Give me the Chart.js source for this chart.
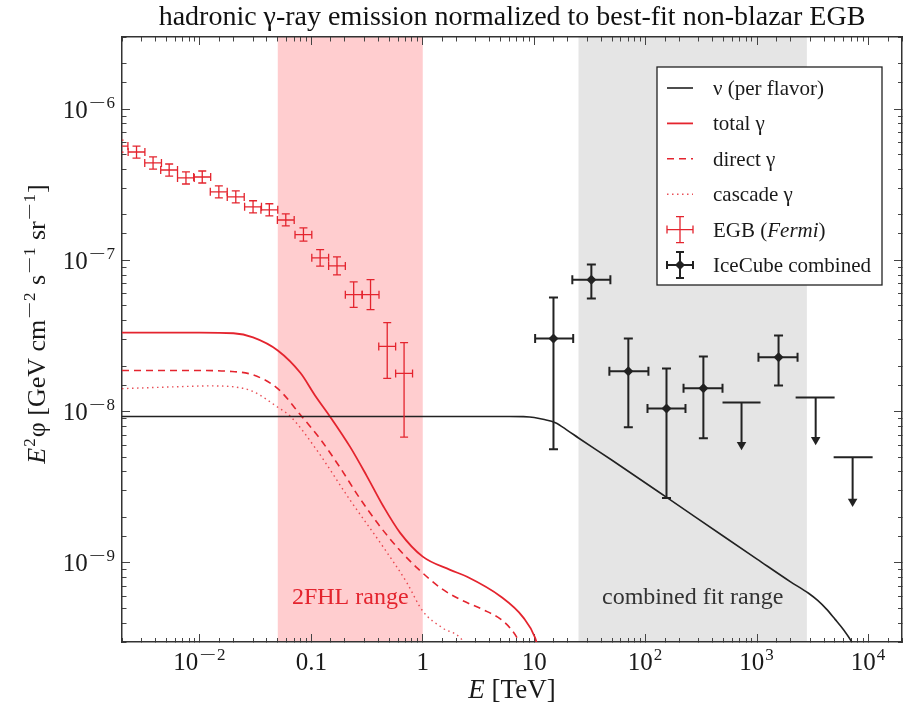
<!DOCTYPE html>
<html>
<head>
<meta charset="utf-8">
<script src="https://cdn.jsdelivr.net/npm/chart.js@4.4.1/dist/chart.umd.min.js"></script>
<style>
  html, body { margin: 0; padding: 0; background: #fff; }
  canvas { display: block; }
</style>
</head>
<body>
<canvas id="chart" width="903" height="710"></canvas>
<script>
// energies in TeV, E^2 phi in GeV cm^-2 s^-1 sr^-1
const nuE    = [0.002, 1, 6, 8, 10, 12, 15.5, 20, 25, 50, 157, 500, 1000, 2000, 2900, 3500, 4200, 5000, 6000, 7200, 9000];
const nuFlux = [9.3e-9, 9.3e-9, 9.3e-9, 9.27e-9, 9.15e-9, 8.9e-9, 8.45e-9, 7.5e-9, 6.7e-9, 4.77e-9, 2.69e-9, 1.5e-9, 1.06e-9, 7.5e-10, 6.3e-10, 5.65e-10, 4.95e-10, 4.25e-10, 3.6e-10, 2.95e-10, 2.2e-10];

const totE    = [0.002, 0.01, 0.02, 0.03, 0.05, 0.08, 0.108, 0.147, 0.223, 0.315, 0.444, 0.627, 1, 1.76, 2.5, 5, 8, 10.2, 11.5];
const totFlux = [3.33e-8, 3.33e-8, 3.3e-8, 3.1e-8, 2.54e-8, 1.8e-8, 1.28e-8, 9.3e-9, 5.85e-9, 3.75e-9, 2.36e-9, 1.58e-9, 1.1e-9, 9.0e-10, 8.1e-10, 6.0e-10, 4.35e-10, 3.2e-10, 2.3e-10];

const dirE    = [0.002, 0.01, 0.018, 0.03, 0.05, 0.082, 0.12, 0.18, 0.27, 0.4, 0.6, 0.9, 1.5, 2.2, 3.5, 5, 6.1, 7.2, 8.2];
const dirFlux = [1.87e-8, 1.87e-8, 1.85e-8, 1.75e-8, 1.42e-8, 9.3e-9, 6.6e-9, 4.3e-9, 2.7e-9, 1.8e-9, 1.25e-9, 9.2e-10, 6.7e-10, 5.7e-10, 4.9e-10, 4.25e-10, 3.7e-10, 3.1e-10, 2.5e-10];

const casE    = [0.002, 0.006, 0.012, 0.02, 0.03, 0.05, 0.065, 0.112, 0.223, 0.44, 0.72, 1, 1.52, 2.17, 2.6];
const casFlux = [1.42e-8, 1.46e-8, 1.48e-8, 1.46e-8, 1.36e-8, 1.07e-8, 9.3e-9, 5.57e-9, 2.6e-9, 1.28e-9, 7.4e-10, 4.8e-10, 3.7e-10, 3.2e-10, 2.6e-10];

// Fermi EGB
const egbE    = [0.0019, 0.0027, 0.0038, 0.0053, 0.0075, 0.0105, 0.0148, 0.021, 0.030, 0.042, 0.059, 0.085, 0.12, 0.17, 0.24, 0.34, 0.48, 0.68];
const egbElo  = [0.0016, 0.00227, 0.0032, 0.00445, 0.0063, 0.0088, 0.0124, 0.0176, 0.0252, 0.0353, 0.0496, 0.0714, 0.101, 0.143, 0.202, 0.286, 0.403, 0.571];
const egbEhi  = [0.00226, 0.00321, 0.00452, 0.0063, 0.0089, 0.0125, 0.0176, 0.025, 0.0357, 0.05, 0.0702, 0.101, 0.143, 0.202, 0.286, 0.405, 0.571, 0.81];
const egbFlux = [5.7e-7, 5.21e-7, 4.41e-7, 3.96e-7, 3.51e-7, 3.56e-7, 2.84e-7, 2.63e-7, 2.26e-7, 2.16e-7, 1.85e-7, 1.48e-7, 1.04e-7, 9.2e-8, 5.94e-8, 5.94e-8, 2.70e-8, 1.79e-8];
const egbLo   = [5.2e-7, 4.75e-7, 4.02e-7, 3.61e-7, 3.2e-7, 3.25e-7, 2.59e-7, 2.4e-7, 2.06e-7, 1.97e-7, 1.69e-7, 1.34e-7, 9.16e-8, 8.03e-8, 4.89e-8, 4.73e-8, 1.66e-8, 6.78e-9];
const egbHi   = [6.25e-7, 5.7e-7, 4.83e-7, 4.34e-7, 3.85e-7, 3.9e-7, 3.11e-7, 2.88e-7, 2.48e-7, 2.37e-7, 2.03e-7, 1.64e-7, 1.18e-7, 1.054e-7, 7.21e-8, 7.46e-8, 3.88e-8, 2.86e-8];

// IceCube combined
const icE    = [14.9, 32.6, 70, 154, 330, 1560];
const icElo  = [10.2, 22.0, 47.3, 104, 219, 1030];
const icEhi  = [22.4, 48.3, 106, 228, 490, 2310];
const icFlux = [3.05e-8, 7.46e-8, 1.85e-8, 1.05e-8, 1.43e-8, 2.29e-8];
const icLo   = [5.65e-9, 5.6e-8, 7.89e-9, 2.69e-9, 6.68e-9, 1.49e-8];
const icHi   = [5.68e-8, 9.38e-8, 3.05e-8, 1.93e-8, 2.32e-8, 3.19e-8];

// IceCube upper limits
const ulE     = [726, 3360, 7210];
const ulElo   = [490, 2220, 4870];
const ulEhi   = [1075, 4970, 10900];
const ulFlux  = [1.15e-8, 1.24e-8, 5.0e-9];
const ulArrow = [6.05e-9, 6.53e-9, 2.55e-9];

const fhlRange = [0.05, 1];
const fitRange = [25, 2800];

const xTickVals = [0.01, 0.1, 1, 10, 100, 1000, 10000];
const xTickBase = ["10", "0.1", "1", "10", "10", "10", "10"];
const xTickExp  = ["−2", "", "", "", "2", "3", "4"];
const yTickVals = [1e-9, 1e-8, 1e-7, 1e-6];
const yTickExp  = ["−9", "−8", "−7", "−6"];

const RED = "rgb(228, 36, 46)";
const INK = "#222";
const FONT = '"Liberation Serif", "DejaVu Serif", serif';
const MINUS_STRETCH = 1.75;

const pts = (xs, ys) => xs.map((x, i) => ({ x: x, y: ys[i] }));
const isDecade = v => v > 0 && Math.abs(Math.log10(v) - Math.round(Math.log10(v))) < 1e-6;

// draw a row of [text, style] pieces, style '' | 'i' | 'sup'
// superscript minus signs are drawn wider, like the TeX minus of the original
function drawParts(ctx, parts, x, y, size, align) {
    const fontOf = p => (p[1] === "i" ? "italic " : "") + Math.round(p[1] === "sup" ? size * 0.68 : size) + "px " + FONT;
    const measure = p => {
        ctx.font = fontOf(p);
        if (p[1] !== "sup") return ctx.measureText(p[0]).width;
        let w = 2;
        if (p[0].startsWith("−")) w += ctx.measureText("−").width * MINUS_STRETCH + 1 + ctx.measureText(p[0].slice(1)).width;
        else w += ctx.measureText(p[0]).width;
        return w;
    };
    const widths = parts.map(measure);
    const total = widths.reduce((s, w) => s + w, 0);
    let cx = align === "center" ? x - total / 2 : align === "right" ? x - total : x;
    ctx.textAlign = "left";
    ctx.textBaseline = "alphabetic";
    parts.forEach((p, i) => {
        ctx.font = fontOf(p);
        if (p[1] === "sup") {
            const sy = y - size * 0.4;
            let sx = cx + 1;
            let rest = p[0];
            if (rest.startsWith("−")) {
                const mw = ctx.measureText("−").width;
                ctx.save();
                ctx.translate(sx, sy);
                ctx.scale(MINUS_STRETCH, 1);
                ctx.fillText("−", 0, 0);
                ctx.restore();
                sx += mw * MINUS_STRETCH + 1;
                rest = rest.slice(1);
            }
            ctx.fillText(rest, sx, sy);
        } else {
            ctx.fillText(p[0], cx, y);
        }
        cx += widths[i];
    });
}

function gridOpts(startsAtBorder) {
    return {
        drawOnChartArea: false,
        drawTicks: true,
        tickLength: -8,
        tickColor: "#444",
        tickWidth: 1,
        tickBorderDash: c => isDecade(c.tick && c.tick.value) ? [] : (startsAtBorder ? [4.5, 50] : [0, 3.5, 4.5, 50])
    };
}

function crossBar(ctx, xs, ys, e, elo, ehi, f, flo, fhi, cap) {
    const px = xs.getPixelForValue(e), pl = xs.getPixelForValue(elo), ph = xs.getPixelForValue(ehi);
    const py = ys.getPixelForValue(f), yl = ys.getPixelForValue(flo), yh = ys.getPixelForValue(fhi);
    ctx.beginPath();
    ctx.moveTo(pl, py); ctx.lineTo(ph, py);
    ctx.moveTo(pl, py - cap); ctx.lineTo(pl, py + cap);
    ctx.moveTo(ph, py - cap); ctx.lineTo(ph, py + cap);
    ctx.moveTo(px, yl); ctx.lineTo(px, yh);
    ctx.moveTo(px - cap, yl); ctx.lineTo(px + cap, yl);
    ctx.moveTo(px - cap, yh); ctx.lineTo(px + cap, yh);
    ctx.stroke();
}

const legendRows = [
    { parts: [["ν (per flavor)", ""]], kind: "line", ds: 0 },
    { parts: [["total γ", ""]], kind: "line", ds: 1 },
    { parts: [["direct γ", ""]], kind: "line", ds: 2 },
    { parts: [["cascade γ", ""]], kind: "line", ds: 3 },
    { parts: [["EGB (", ""], ["Fermi", "i"], [")", ""]], kind: "egb" },
    { parts: [["IceCube combined", ""]], kind: "ic" }
];

const decor = {
    id: "decor",
    beforeDraw(chart) {
        const ctx = chart.ctx, a = chart.chartArea, xs = chart.scales.x;
        ctx.save();
        const p0 = xs.getPixelForValue(fhlRange[0]), p1 = xs.getPixelForValue(fhlRange[1]);
        const g0 = xs.getPixelForValue(fitRange[0]), g1 = xs.getPixelForValue(fitRange[1]);
        ctx.fillStyle = "rgb(255, 205, 207)";
        ctx.fillRect(p0, a.top, p1 - p0, a.bottom - a.top);
        ctx.fillStyle = "rgb(229, 229, 229)";
        ctx.fillRect(g0, a.top, g1 - g0, a.bottom - a.top);
        ctx.fillStyle = RED;
        drawParts(ctx, [["2FHL range", ""]], (p0 + p1) / 2, a.bottom - 38, 24, "center");
        ctx.fillStyle = "#333";
        drawParts(ctx, [["combined fit range", ""]], (g0 + g1) / 2, a.bottom - 38, 24, "center");
        ctx.restore();
    },
    afterDatasetsDraw(chart) {
        const ctx = chart.ctx, a = chart.chartArea, xs = chart.scales.x, ys = chart.scales.y;
        ctx.save();
        ctx.beginPath();
        ctx.rect(a.left, a.top, a.right - a.left, a.bottom - a.top);
        ctx.clip();
        ctx.strokeStyle = RED;
        ctx.lineWidth = 1.3;
        egbE.forEach((e, i) => crossBar(ctx, xs, ys, e, egbElo[i], egbEhi[i], egbFlux[i], egbLo[i], egbHi[i], 4));
        ctx.strokeStyle = INK;
        ctx.lineWidth = 2;
        icE.forEach((e, i) => crossBar(ctx, xs, ys, e, icElo[i], icEhi[i], icFlux[i], icLo[i], icHi[i], 4.5));
        ulE.forEach((e, i) => {
            const px = xs.getPixelForValue(e), py = ys.getPixelForValue(ulFlux[i]);
            ctx.beginPath();
            ctx.moveTo(xs.getPixelForValue(ulElo[i]), py);
            ctx.lineTo(xs.getPixelForValue(ulEhi[i]), py);
            ctx.moveTo(px, py);
            ctx.lineTo(px, ys.getPixelForValue(ulArrow[i]));
            ctx.stroke();
        });
        ctx.restore();
    },
    afterDraw(chart) {
        const ctx = chart.ctx, a = chart.chartArea, xs = chart.scales.x, ys = chart.scales.y;
        ctx.save();
        ctx.fillStyle = "#1a1a1a";
        // tick labels
        xTickVals.forEach((v, i) => {
            const parts = [[xTickBase[i], ""]];
            if (xTickExp[i]) parts.push([xTickExp[i], "sup"]);
            drawParts(ctx, parts, xs.getPixelForValue(v), a.bottom + 28, 25, "center");
        });
        yTickVals.forEach((v, i) => {
            drawParts(ctx, [["10", ""], [yTickExp[i], "sup"]], a.left - 6, ys.getPixelForValue(v) + 8.5, 25, "right");
        });
        // axis titles
        drawParts(ctx, [["E", "i"], [" [TeV]", ""]], (a.left + a.right) / 2, a.bottom + 56, 27, "center");
        ctx.save();
        ctx.translate(a.left - 77, 324);
        ctx.rotate(-Math.PI / 2);
        drawParts(ctx, [["E", "i"], ["2", "sup"], ["φ", ""], [" [GeV cm", ""], ["−2", "sup"], [" s", ""], ["−1", "sup"], [" sr", ""], ["−1", "sup"], ["]", ""]], 0, 0, 25.5, "center");
        ctx.restore();

        // legend
        const x0 = a.right - 245, y0 = a.top + 30, w = 225, h = 218;
        ctx.fillStyle = "#fff";
        ctx.fillRect(x0, y0, w, h);
        ctx.strokeStyle = INK;
        ctx.lineWidth = 1.3;
        ctx.strokeRect(x0, y0, w, h);
        legendRows.forEach((row, i) => {
            const cy = y0 + 21 + i * 35.4, sx = x0 + 23;
            ctx.save();
            if (row.kind === "line") {
                const ds = chart.data.datasets[row.ds];
                ctx.strokeStyle = ds.borderColor;
                ctx.lineWidth = ds.borderWidth;
                ctx.setLineDash(ds.borderDash || []);
                ctx.beginPath();
                ctx.moveTo(sx - 13, cy);
                ctx.lineTo(sx + 13, cy);
                ctx.stroke();
            } else {
                const col = row.kind === "egb" ? RED : INK;
                ctx.strokeStyle = col;
                ctx.lineWidth = row.kind === "egb" ? 1.3 : 2;
                ctx.beginPath();
                ctx.moveTo(sx - 13, cy); ctx.lineTo(sx + 13, cy);
                ctx.moveTo(sx - 13, cy - 4); ctx.lineTo(sx - 13, cy + 4);
                ctx.moveTo(sx + 13, cy - 4); ctx.lineTo(sx + 13, cy + 4);
                ctx.moveTo(sx, cy - 13); ctx.lineTo(sx, cy + 13);
                ctx.moveTo(sx - 4, cy - 13); ctx.lineTo(sx + 4, cy - 13);
                ctx.moveTo(sx - 4, cy + 13); ctx.lineTo(sx + 4, cy + 13);
                ctx.stroke();
                if (row.kind === "ic") {
                    ctx.fillStyle = INK;
                    ctx.beginPath();
                    ctx.moveTo(sx - 5, cy); ctx.lineTo(sx, cy - 5); ctx.lineTo(sx + 5, cy); ctx.lineTo(sx, cy + 5);
                    ctx.closePath();
                    ctx.fill();
                }
            }
            ctx.restore();
            ctx.fillStyle = "#1a1a1a";
            drawParts(ctx, row.parts, x0 + 56, cy + 7, 21, "left");
        });
        ctx.restore();
    }
};

const curve = (label, xs, ys, color, width, dash) => ({
    label: label,
    data: pts(xs, ys),
    borderColor: color,
    borderWidth: width,
    borderDash: dash,
    pointRadius: 0,
    fill: false,
    cubicInterpolationMode: "monotone"
});

const logAxis = (pos, min, max, fit, startsAtBorder) => ({
    type: "logarithmic",
    position: pos,
    min: min,
    max: max,
    ticks: { display: false },
    grid: gridOpts(startsAtBorder),
    border: { display: true, color: "#333", width: 1.5 },
    afterFit: fit
});

new Chart(document.getElementById("chart"), {
    type: "line",
    data: {
        datasets: [
            curve("ν (per flavor)", nuE, nuFlux, INK, 1.6, []),
            curve("total γ", totE, totFlux, RED, 1.8, []),
            curve("direct γ", dirE, dirFlux, RED, 1.6, [7, 5]),
            curve("cascade γ", casE, casFlux, "rgba(228, 36, 46, 0.8)", 1.4, [1.5, 3.5]),
            {
                label: "EGB (Fermi)",
                data: pts(egbE, egbFlux),
                showLine: false,
                pointRadius: 0
            },
            {
                label: "IceCube combined",
                data: pts(icE, icFlux),
                showLine: false,
                pointStyle: "rectRot",
                pointRadius: 5,
                pointBackgroundColor: INK,
                pointBorderColor: INK,
                pointBorderWidth: 0
            },
            {
                label: "IceCube upper limits",
                data: pts(ulE, ulArrow),
                showLine: false,
                pointStyle: "triangle",
                rotation: 180,
                pointRadius: 5.5,
                pointBackgroundColor: INK,
                pointBorderColor: INK,
                pointBorderWidth: 0
            }
        ]
    },
    options: {
        responsive: false,
        animation: false,
        devicePixelRatio: 1,
        layout: { padding: 0, autoPadding: false },
        plugins: {
            legend: { display: false },
            tooltip: { enabled: false },
            title: {
                display: true,
                fullSize: false,
                text: "hadronic γ-ray emission normalized to best-fit non-blazar EGB",
                color: "#111",
                font: { family: FONT, size: 28, weight: "normal", lineHeight: 1.2 },
                padding: { top: 1, bottom: 2.4 }
            }
        },
        scales: {
            x: logAxis("bottom", 0.002, 2e4, s => { s.height = 68; }, true),
            x2: logAxis("top", 0.002, 2e4, s => { s.height = 0; }, false),
            y: logAxis("left", 3e-10, 3e-6, s => { s.width = 122; }, false),
            y2: logAxis("right", 3e-10, 3e-6, s => { s.width = 1; }, true)
        }
    },
    plugins: [decor]
});
</script>
</body>
</html>
